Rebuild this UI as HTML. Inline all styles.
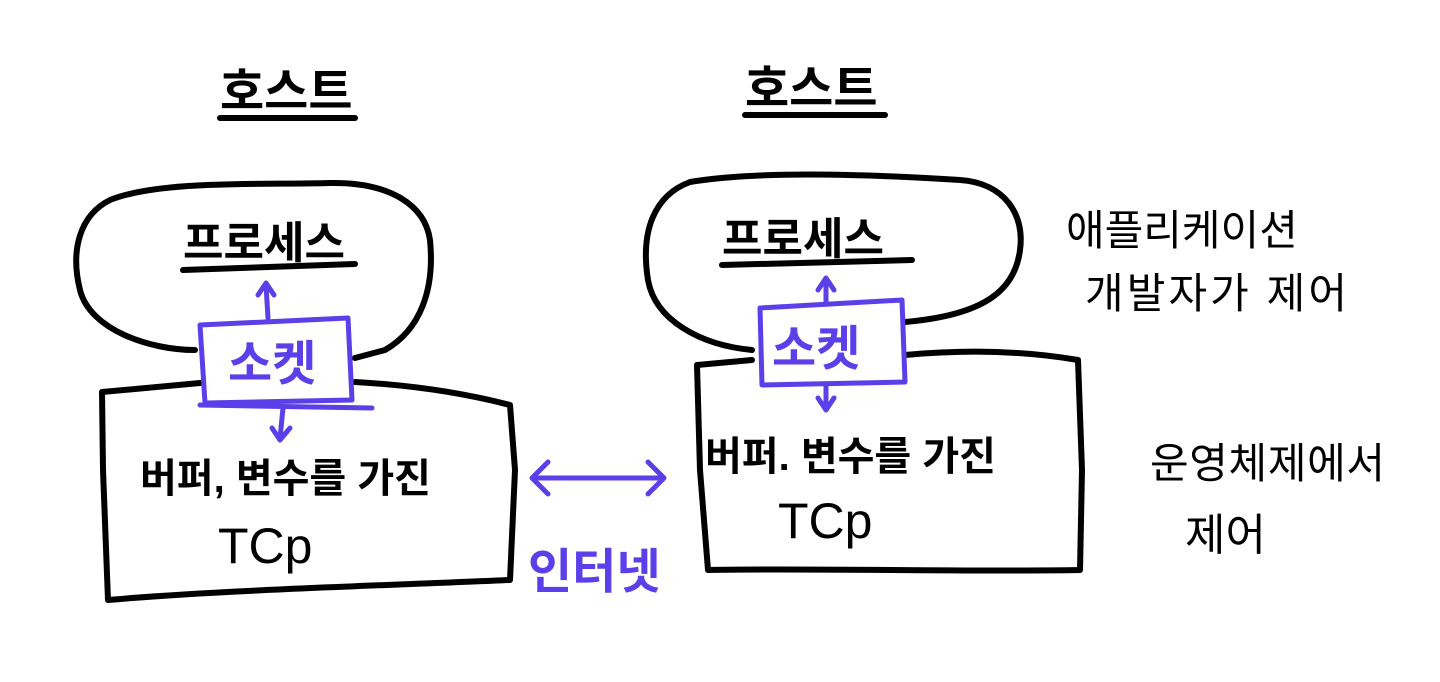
<!DOCTYPE html>
<html><head><meta charset="utf-8"><style>
html,body{margin:0;padding:0;background:#fff;}
svg{display:block;}
text{font-family:"Liberation Sans","Noto Sans CJK KR","NanumGothic",sans-serif;}
</style></head><body>
<svg width="1440" height="682" viewBox="0 0 1440 682" xmlns="http://www.w3.org/2000/svg">
<g fill="none" stroke="#000" stroke-width="6" stroke-linecap="round" stroke-linejoin="round">
<path d="M195 350 C150 350 90 330 80 290 C70 250 80 215 110 200 C160 180 260 185 330 183 C390 182 425 205 430 240 C435 290 420 330 385 350 L355 358"/>
<path d="M200 383 L102 392 L103 470 L108 600 C220 590 400 585 510 580 L515 470 L510 405 C460 392 410 385 355 382"/>
<path d="M752 350 C700 345 655 320 648 280 C640 230 655 195 690 182 C760 170 880 175 960 180 C1005 183 1025 215 1020 250 C1015 290 985 315 905 322"/>
<path d="M752 360 L697 365 L700 470 L708 570 C820 568 960 572 1080 570 L1082 470 L1078 360 C1020 350 960 350 905 355"/>
<path d="M220 118 L355 118"/><path d="M745 115 L885 115"/>
<path d="M183 270 L355 264"/><path d="M722 265 L912 260"/>
</g>
<g fill="none" stroke="#5b3fe8" stroke-width="5" stroke-linecap="round" stroke-linejoin="round">
<path d="M200 325 L348 318 L352 400 L205 403 Z"/>
<path d="M200 405 L372 408"/>
<path d="M268 318 L266 285 M258 295 L266 283 L274 295"/>
<path d="M283 408 L280 438 M272 428 L280 440 L290 428"/>
<path d="M760 308 L902 300 L905 382 L762 385 Z"/>
<path d="M826 302 L826 280 M818 290 L826 278 L834 290"/>
<path d="M826 385 L826 408 M818 398 L826 410 L834 398"/>
<path d="M535 478 L662 478 M548 462 L532 478 L548 494 M648 462 L664 478 L648 494"/>
</g>
<g fill="#000" font-size="48" font-weight="bold">
<text x="220" y="108">호스트</text>
<text x="745" y="105">호스트</text>
<text x="183" y="258" font-size="44">프로세스</text>
<text x="722" y="254" font-size="44">프로세스</text>
<text x="140" y="492" font-size="40">버퍼, 변수를 가진</text>
<text x="218" y="563" font-size="50" font-weight="normal">TCp</text>
<text x="705" y="470" font-size="40">버퍼. 변수를 가진</text>
<text x="778" y="538" font-size="50" font-weight="normal">TCp</text>
<text x="1066" y="245" font-size="42" font-weight="normal">애플리케이션</text>
<text x="1085" y="308" font-size="42" font-weight="normal" textLength="262">개발자가 제어</text>
<text x="1150" y="478" font-size="42" font-weight="normal" textLength="235">운영체제에서</text>
<text x="1185" y="550" font-size="44" font-weight="normal">제어</text>
</g>
<g fill="#5b3fe8" font-size="48" font-weight="bold">
<text x="228" y="380">소켓</text>
<text x="772" y="365">소켓</text>
<text x="528" y="588" font-size="48">인터넷</text>
</g>
</svg>
</body></html>
